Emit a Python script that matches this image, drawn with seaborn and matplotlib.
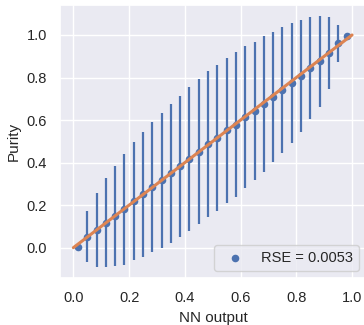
import numpy as np
import pandas as pd
import matplotlib
matplotlib.use("Agg")
import matplotlib.pyplot as plt
import seaborn as sns

# Data
nn_output = [(i + 0.5) / 30 for i in range(30)]
purity = [0.005, 0.052, 0.083, 0.118, 0.150, 0.180, 0.219, 0.252, 0.284, 0.317,
          0.349, 0.382, 0.417, 0.452, 0.487, 0.516, 0.551, 0.579, 0.615, 0.643,
          0.676, 0.710, 0.741, 0.773, 0.808, 0.844, 0.877, 0.915, 0.961, 0.997]
purity_err = [0.0, 0.119, 0.172, 0.208, 0.235, 0.261, 0.277, 0.294, 0.306, 0.317,
              0.325, 0.333, 0.337, 0.340, 0.343, 0.343, 0.342, 0.339, 0.333, 0.325,
              0.319, 0.306, 0.298, 0.282, 0.263, 0.240, 0.214, 0.171, 0.086, 0.0]
ideal_x = [0.0, 1.0]
ideal_y = [0.0, 1.0]
legend_label = "RSE = 0.0053"

sns.set_theme(style="darkgrid")
plt.rcParams['font.family'] = ['Liberation Sans', 'DejaVu Sans']

fig = plt.figure(figsize=(3.64, 3.25), dpi=100)
ax = fig.add_axes([60/364, (325-278.3)/325, (366-60)/364, (278.3-5)/325])

pal = sns.color_palette("deep")
df = pd.DataFrame({"x": nn_output, "y": purity, "err": purity_err})

ax.errorbar(df["x"], df["y"], yerr=df["err"], fmt="none", ecolor=pal[0],
            elinewidth=1.6, capsize=0, zorder=2)
sns.scatterplot(data=df, x="x", y="y", ax=ax, color=pal[0], s=30,
                linewidth=0, label=legend_label, zorder=3)
sns.lineplot(x=ideal_x, y=ideal_y, ax=ax, color=pal[1], linewidth=2.2, zorder=4)

ax.set_xlim(-0.048, 1.05)
ax.set_ylim(-0.144, 1.141)
ax.set_xticks([0.0, 0.2, 0.4, 0.6, 0.8, 1.0])
ax.set_yticks([0.0, 0.2, 0.4, 0.6, 0.8, 1.0])
ax.tick_params(labelsize=10.5)
ax.set_xlabel("NN output", fontsize=11)
ax.set_ylabel("Purity", fontsize=11)
ax.legend(loc="lower right", fontsize=10.5)

fig.savefig("out.png", dpi=100)
